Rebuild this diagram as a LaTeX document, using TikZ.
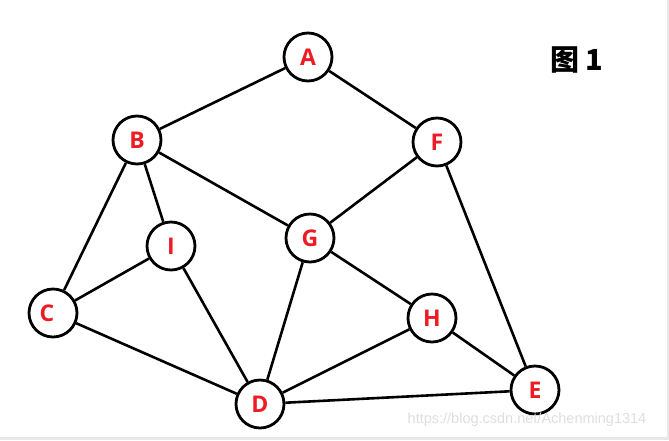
\documentclass[tikz,border=0pt]{standalone}
\usepackage{fontspec}
\setmainfont{Open Sans}
\newfontfamily\cjk{Noto Sans CJK SC}
\newfontfamily\wm{Liberation Sans}
\definecolor{lab}{RGB}{237,28,36}
\definecolor{wmc}{RGB}{222,222,222}
\definecolor{brd}{RGB}{232,232,232}
\begin{document}
\begin{tikzpicture}[x=1pt,y=-1pt,
  vtx/.style={circle,draw=black,line width=2.8pt,fill=white,minimum size=48pt,inner sep=0pt,
    font=\fontsize{23}{23}\selectfont\bfseries,text=lab},
  edge/.style={line width=2.6pt}]
\useasboundingbox (0,0) rectangle (669,440);
\fill[brd] (0,437) rectangle (669,440);
\fill[brd] (667,0) rectangle (669,440);
\node[vtx] (A) at (308,57) {A};
\node[vtx] (B) at (137,140) {B};
\node[vtx] (F) at (437,142) {F};
\node[vtx] (I) at (171,246) {I};
\node[vtx] (G) at (310,238) {G};
\node[vtx] (C) at (53,313) {\raisebox{-7pt}{\hspace*{-12pt}C}};
\node[vtx] (H) at (432,318) {H};
\node[vtx] (E) at (535,390) {E};
\node[vtx] (D) at (260,404) {D};
\node[font=\cjk\bfseries\fontsize{29}{29}\selectfont, anchor=center] (T) at (577,60) {图\hspace{6pt}1};
\node[font=\wm\fontsize{14.5}{15}\selectfont, text=wmc] (W) at (527,420) {https://blog.csdn.net/Achenming1314};
\begin{scope}[every path/.style={edge}]
\draw (A) -- (B);
\draw (A) -- (F);
\draw (B) -- (I);
\draw (B) -- (C);
\draw (B) -- (G);
\draw (F) -- (G);
\draw (F) -- (E);
\draw (I) -- (C);
\draw (I) -- (D);
\draw (G) -- (D);
\draw (G) -- (H);
\draw (C) -- (D);
\draw (H) -- (D);
\draw (H) -- (E);
\draw (D) -- (E);
\end{scope}
\end{tikzpicture}
\end{document}
